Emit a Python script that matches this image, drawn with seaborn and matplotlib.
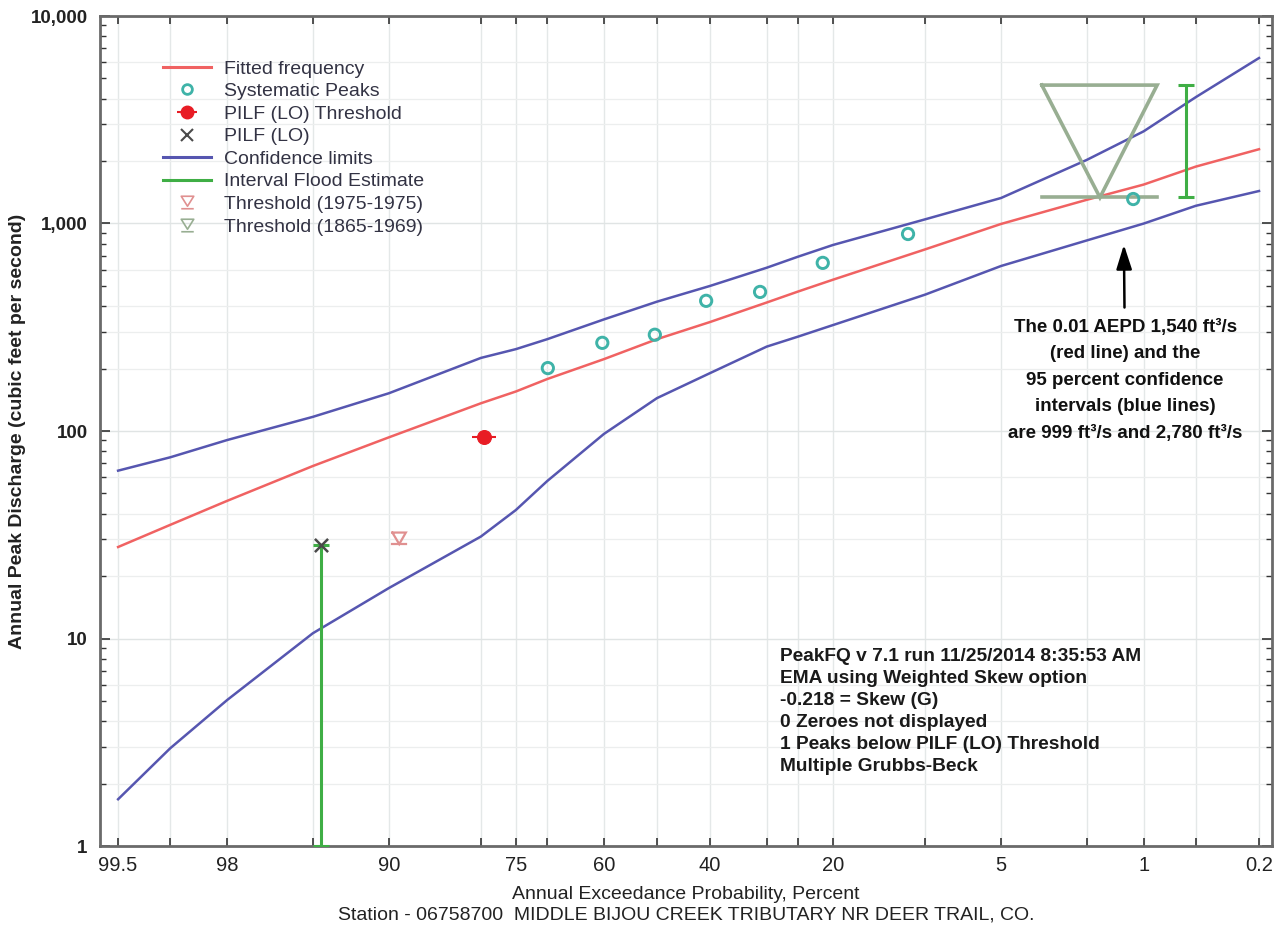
import math
import numpy as np
import pandas as pd
import matplotlib
matplotlib.use("Agg")
import matplotlib.pyplot as plt
import seaborn as sns
from matplotlib.lines import Line2D
from matplotlib.path import Path
from matplotlib.ticker import FixedLocator, FixedFormatter, LogLocator, NullFormatter

# ---------------- data ----------------
curve_aep = [99.5, 99, 98, 95, 90, 80, 75, 70, 60, 50, 40, 30, 25, 20, 10, 5, 2, 1, 0.5, 0.2]
fitted_q = [27.6, 35.3, 46.1, 67.8, 93.2, 136, 155, 178, 222, 277, 335, 416, 470, 536, 750, 995, 1300, 1540, 1880, 2280]
upper_q = [64.4, 74.7, 90.5, 117, 152, 225, 248, 277, 345, 420, 500, 612, 692, 788, 1047, 1327, 2023, 2780, 4063, 6274]
lower_q = [1.68, 2.96, 5.06, 10.6, 17.5, 31.0, 41.6, 57.4, 96.8, 144, 190, 255, 285, 324, 454, 624, 828, 999, 1217, 1434]

peak_aep = [69.9, 60.3, 50.4, 40.7, 31.1, 21.4, 11.5, 1.14]
peak_q = [201, 266, 291, 424, 468, 646, 890, 1312]

pilf_thr_aep = [79.6]
pilf_thr_q = [93.3]
pilf_lo_aep = [94.6]
pilf_lo_q = [28.3]

interval_aep = [94.6, 0.57]
interval_low = [1.0, 1335]
interval_high = [28.3, 4645]

# threshold glyphs: [left AEP, right AEP, centre AEP], [top Q, bottom Q]
thr1975_aep = [89.7, 88.5, 89.1]
thr1975_q = [32.4, 28.5]
thr1865_aep = [3.29, 0.84, 1.71]
thr1865_q = [4645, 1335]

x_ticks = [99.5, 99, 98, 95, 90, 80, 75, 70, 60, 50, 40, 30, 25, 20, 10, 5, 2, 1, 0.5, 0.2]
x_labels = {99.5: "99.5", 98: "98", 90: "90", 75: "75", 60: "60", 40: "40",
            20: "20", 5: "5", 1: "1", 0.2: "0.2"}
y_ticks = [1, 10, 100, 1000, 10000]
y_labels = ["1", "10", "100", "1,000", "10,000"]

legend_labels = ["Fitted frequency", "Systematic Peaks", "PILF (LO) Threshold", "PILF (LO)",
                 "Confidence limits", "Interval Flood Estimate", "Threshold (1975-1975)",
                 "Threshold (1865-1969)"]

# ---------------- normal probability scale ----------------
_erf = np.vectorize(math.erf, otypes=[float])


def _phi(z):
    z = np.asarray(z, dtype=float)
    if z.size == 0:
        return z.copy()
    return 0.5 * (1.0 + _erf(z / math.sqrt(2.0)))


def _ppf(p):
    p = np.clip(np.asarray(p, dtype=float), 1e-12, 1 - 1e-12)
    if p.size == 0:
        return p.copy()
    lo = np.full_like(p, -10.0)
    hi = np.full_like(p, 10.0)
    for _ in range(60):
        mid = 0.5 * (lo + hi)
        less = _phi(mid) < p
        lo = np.where(less, mid, lo)
        hi = np.where(less, hi, mid)
    return 0.5 * (lo + hi)


def fwd(aep):
    # increasing in AEP; the axis is inverted with set_xlim below
    return _ppf(np.asarray(aep, dtype=float) / 100.0)


def inv(z):
    return 100.0 * _phi(np.asarray(z, dtype=float))


# ---------------- fonts / colours ----------------
plt.rcParams['font.family'] = ['Liberation Sans', 'DejaVu Sans']

c_red = '#f06262'
c_blue = '#5656b0'
c_teal = '#3fb3a8'
c_pilf = '#e81c24'
c_x = '#4a4a4a'
c_green = '#3fae45'
c_thr1975 = '#e09090'
c_thr1865 = '#98ae92'
c_spine = '#6a6a6a'

fig = plt.figure(figsize=(12.82, 9.30), dpi=100)
ax = fig.add_axes([100 / 1282, 1 - 846 / 930, 1172 / 1282, 830 / 930])
ax.set_yscale('log')
ax.set_xscale('function', functions=(fwd, inv))

curves = pd.DataFrame({'aep': curve_aep, 'fitted': fitted_q, 'upper': upper_q, 'lower': lower_q})

# grid (styling)
for xv in x_ticks:
    ax.axvline(xv, color='#e4e8e8', lw=1.0, zorder=0)
for dec in [1, 10, 100, 1000]:
    for m in [2, 3, 4, 6]:
        ax.axhline(dec * m, color='#eceeee', lw=0.9, zorder=0)
for yv in y_ticks:
    ax.axhline(yv, color='#e0e4e4', lw=1.0, zorder=0)

# curves
sns.lineplot(data=curves, x='aep', y='upper', ax=ax, color=c_blue, lw=1.8, sort=False,
             estimator=None, legend=False, zorder=3)
sns.lineplot(data=curves, x='aep', y='lower', ax=ax, color=c_blue, lw=1.8, sort=False,
             estimator=None, legend=False, zorder=3)
sns.lineplot(data=curves, x='aep', y='fitted', ax=ax, color=c_red, lw=1.8, sort=False,
             estimator=None, legend=False, zorder=4)

# interval flood estimates
ax.vlines(interval_aep, interval_low, interval_high, color=c_green, lw=2.2, zorder=5)
ax.plot(interval_aep, interval_low, ls='none', marker='_', ms=11, mew=2.2, color=c_green, zorder=5)
ax.plot(interval_aep, interval_high, ls='none', marker='_', ms=11, mew=2.2, color=c_green, zorder=5)

# threshold glyphs (drawn in data space)
for aeps, qs, col, lw in [(thr1975_aep, thr1975_q, c_thr1975, 1.6), (thr1865_aep, thr1865_q, c_thr1865, 2.6)]:
    left, right, centre = aeps
    top, bottom = qs
    ax.plot([left, right, centre, left], [top, top, bottom, top], color=col, lw=lw, zorder=4,
            solid_joinstyle='miter')
    ax.plot([left, right], [bottom, bottom], color=col, lw=lw, zorder=4)

# points
sns.scatterplot(x=peak_aep, y=peak_q, ax=ax, marker='o', s=66, facecolor='none',
                edgecolor=c_teal, linewidth=2.1, legend=False, zorder=6)
ax.plot(pilf_thr_aep, pilf_thr_q, ls='none', marker='_', ms=17, mew=1.5, color=c_pilf, zorder=6)
sns.scatterplot(x=pilf_thr_aep, y=pilf_thr_q, ax=ax, marker='o', s=100, color=c_pilf,
                edgecolor=c_pilf, legend=False, zorder=7)
sns.scatterplot(x=pilf_lo_aep, y=pilf_lo_q, ax=ax, marker='x', s=90, color=c_x, linewidth=1.8,
                legend=False, zorder=7)

# axes limits / ticks
ax.set_xlim(99.612, 0.164)
ax.set_ylim(1, 10000)
ax.xaxis.set_major_locator(FixedLocator(x_ticks))
ax.xaxis.set_major_formatter(FixedFormatter([x_labels.get(t, "") for t in x_ticks]))
ax.xaxis.set_minor_locator(FixedLocator([]))
ax.yaxis.set_major_locator(FixedLocator(y_ticks))
ax.yaxis.set_major_formatter(FixedFormatter(y_labels))
ax.yaxis.set_minor_locator(LogLocator(base=10, subs=np.arange(2, 10)))
ax.yaxis.set_minor_formatter(NullFormatter())

ax.tick_params(axis='x', which='major', direction='in', top=True, bottom=True, length=6, width=1.2,
               color='#333333', pad=7)
ax.tick_params(axis='y', which='major', direction='in', left=True, right=True, length=7, width=1.2,
               color='#333333', pad=9)
ax.tick_params(axis='y', which='minor', direction='in', left=True, right=True, length=4, width=1.0,
               color='#333333')
for lab in ax.get_xticklabels():
    lab.set_fontsize(14.5)
    lab.set_color('#222222')
for lab in ax.get_yticklabels():
    lab.set_fontsize(13.5)
    lab.set_fontweight('bold')
    lab.set_color('#222222')

for sp in ax.spines.values():
    sp.set_color(c_spine)
    sp.set_linewidth(2)

ax.set_ylabel('Annual Peak Discharge (cubic feet per second)', fontsize=14, fontweight='bold',
              color='#222222', labelpad=3)
ax.set_xlabel('Annual Exceedance Probability, Percent\n'
              'Station - 06758700  MIDDLE BIJOU CREEK TRIBUTARY NR DEER TRAIL, CO.',
              fontsize=14, color='#222222', labelpad=8, linespacing=1.3)

# legend
hourglass = Path([(-1, 1), (1, 1), (0, -0.6), (-1, 1), (-1, -1), (1, -1)],
                 [Path.MOVETO, Path.LINETO, Path.LINETO, Path.CLOSEPOLY, Path.MOVETO, Path.LINETO])
handles = [
    Line2D([], [], color=c_red, lw=2.2),
    Line2D([], [], ls='none', marker='o', ms=7, mfc='none', mec=c_teal, mew=2),
    (Line2D([], [], ls='none', marker='_', ms=15, mew=1.5, color=c_pilf),
     Line2D([], [], ls='none', marker='o', ms=9, color=c_pilf)),
    Line2D([], [], ls='none', marker='x', ms=9, mew=1.5, color=c_x),
    Line2D([], [], color=c_blue, lw=2.2),
    Line2D([], [], color=c_green, lw=2.2),
    Line2D([], [], ls='none', marker=hourglass, ms=9, mfc='none', mec=c_thr1975, mew=1.2),
    Line2D([], [], ls='none', marker=hourglass, ms=9, mfc='none', mec=c_thr1865, mew=1.2),
]
leg = ax.legend(handles, legend_labels, loc='upper left', bbox_to_anchor=(0.054, 0.947),
                frameon=False, fontsize=14, numpoints=1, handlelength=2.45, handletextpad=0.68,
                labelspacing=0.255, borderpad=0, borderaxespad=0)
for t in leg.get_texts():
    t.set_color('#333344')

# info box
info = ("PeakFQ v 7.1 run 11/25/2014 8:35:53 AM\n"
        "EMA using Weighted Skew option\n"
        "-0.218 = Skew (G)\n"
        "0 Zeroes not displayed\n"
        "1 Peaks below PILF (LO) Threshold\n"
        "Multiple Grubbs-Beck")
ax.text(0.580, 0.238, info, transform=ax.transAxes, ha='left', va='top', fontsize=13.8,
        fontweight='bold', color='#1a1a1a', linespacing=1.38)

# annotation
note = ("The 0.01 AEPD 1,540 ft\u00b3/s\n(red line) and the\n95 percent confidence\n"
        "intervals (blue lines)\nare 999 ft\u00b3/s and 2,780 ft\u00b3/s")
ax.annotate(note, xy=(1.28, 790), xytext=(1.26, 348), ha='center', va='top',
            fontsize=13.5, fontweight='bold', color='#111111', linespacing=1.73,
            arrowprops=dict(arrowstyle='-|>,head_width=0.35,head_length=1.1', color='black', lw=1.8,
                            shrinkA=6, shrinkB=0))

fig.savefig('out.png', dpi=100)
